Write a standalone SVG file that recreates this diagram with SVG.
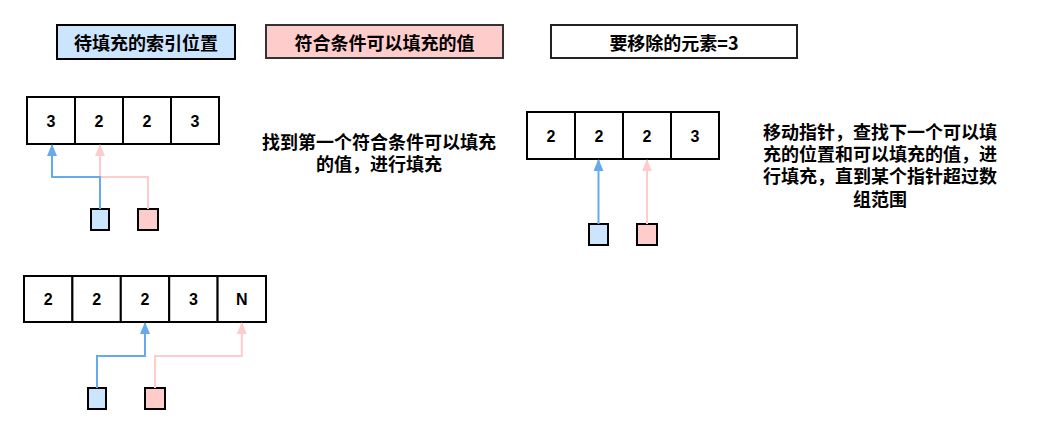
<svg xmlns="http://www.w3.org/2000/svg" width="1038" height="433" viewBox="0 0 1038 433">
<style>
.t{font-family:"Noto Sans CJK SC","Liberation Sans",sans-serif;font-weight:bold;font-size:18px;fill:#000;text-anchor:middle;dominant-baseline:central}
.n{font-family:"Liberation Sans",Arial,sans-serif;font-weight:bold;font-size:16px;fill:#000;text-anchor:middle;dominant-baseline:central}
.c{fill:#fff;stroke:#000;stroke-width:2}
.b{fill:#cce5ff;stroke:#000;stroke-width:2}
.p{fill:#ffcccc;stroke:#000;stroke-width:2}
.lb{fill:none;stroke:#66aaee;stroke-width:2}
.lp{fill:none;stroke:#ffcccc;stroke-width:2}
</style>
<defs>
<marker id="ab" markerWidth="12" markerHeight="10" refX="11" refY="5" orient="auto" markerUnits="userSpaceOnUse" viewBox="0 0 12 10">
<path d="M0,0 L12,5 L0,10 Z" fill="#66aaee"/>
</marker>
<marker id="ap" markerWidth="12" markerHeight="10" refX="11" refY="5" orient="auto" markerUnits="userSpaceOnUse" viewBox="0 0 12 10">
<path d="M0,0 L12,5 L0,10 Z" fill="#ffcccc"/>
</marker>
</defs>
<rect width="1038" height="433" fill="#fff"/>

<g id="legend-blue"><rect class="b" x="57" y="25" width="178" height="34"/><text class="t" x="146" y="42">待填充的索引位置</text></g>
<g id="legend-pink"><rect class="p" x="266" y="25" width="237" height="33" style="stroke:#333"/><text class="t" x="384.5" y="41.5">符合条件可以填充的值</text></g>
<g id="legend-target"><rect class="c" x="551" y="25" width="246" height="33" style="stroke:#222"/><text class="t" x="674" y="41.5">要移除的元素=3</text></g>

<g id="array1">
<rect class="c" x="27" y="97" width="48" height="47"/><text class="n" x="51" y="121">3</text>
<rect class="c" x="75" y="97" width="48" height="47"/><text class="n" x="99" y="121">2</text>
<rect class="c" x="123" y="97" width="48" height="47"/><text class="n" x="147" y="121">2</text>
<rect class="c" x="171" y="97" width="48" height="47"/><text class="n" x="195" y="121">3</text>
</g>
<g id="ptr1-blue"><rect class="b" x="91" y="209" width="18" height="21"/></g>
<g id="ptr1-pink"><rect class="p" x="138" y="209" width="20" height="21"/></g>
<g id="text1"><text class="t"><tspan x="379" y="141">找到第一个符合条件可以填充</tspan><tspan x="379" y="163">的值，进行填充</tspan></text></g>

<g id="array2">
<rect class="c" x="527" y="112" width="48" height="47"/><text class="n" x="551" y="136">2</text>
<rect class="c" x="575" y="112" width="48" height="47"/><text class="n" x="599" y="136">2</text>
<rect class="c" x="623" y="112" width="48" height="47"/><text class="n" x="647" y="136">2</text>
<rect class="c" x="671" y="112" width="48" height="47"/><text class="n" x="695" y="136">3</text>
</g>
<g id="ptr2-blue"><rect class="b" x="589" y="224" width="19" height="21"/></g>
<g id="ptr2-pink"><rect class="p" x="637" y="224" width="20" height="21"/></g>
<g id="text2"><text class="t"><tspan x="880" y="131">移动指针，查找下一个可以填</tspan><tspan x="880" y="153">充的位置和可以填充的值，进</tspan><tspan x="880" y="175">行填充，直到某个指针超过数</tspan><tspan x="880" y="198">组范围</tspan></text></g>

<g id="array3">
<rect class="c" x="24" y="276" width="48.4" height="46"/><text class="n" x="48.2" y="299">2</text>
<rect class="c" x="72.4" y="276" width="48.4" height="46"/><text class="n" x="96.6" y="299">2</text>
<rect class="c" x="120.8" y="276" width="48.4" height="46"/><text class="n" x="145" y="299">2</text>
<rect class="c" x="169.2" y="276" width="48.4" height="46"/><text class="n" x="193.4" y="299">3</text>
<rect class="c" x="217.6" y="276" width="48.4" height="46"/><text class="n" x="241.8" y="299">N</text>
</g>
<g id="ptr3-blue"><rect class="b" x="88" y="388" width="18" height="21"/></g>
<g id="ptr3-pink"><rect class="p" x="145" y="388" width="20" height="21"/></g>

<g id="connectors">
<path class="lp" d="M148,209 V177 H100 V145" marker-end="url(#ap)"/>
<path class="lb" d="M100,209 V177 H52 V145" marker-end="url(#ab)"/>
<path class="lb" d="M598.5,224 V160" marker-end="url(#ab)"/>
<path class="lp" d="M647,224 V160" marker-end="url(#ap)"/>
<path class="lb" d="M97,388 V356 H145 V323" marker-end="url(#ab)"/>
<path class="lp" d="M155,388 V356 H241.8 V323" marker-end="url(#ap)"/>
</g>
</svg>
